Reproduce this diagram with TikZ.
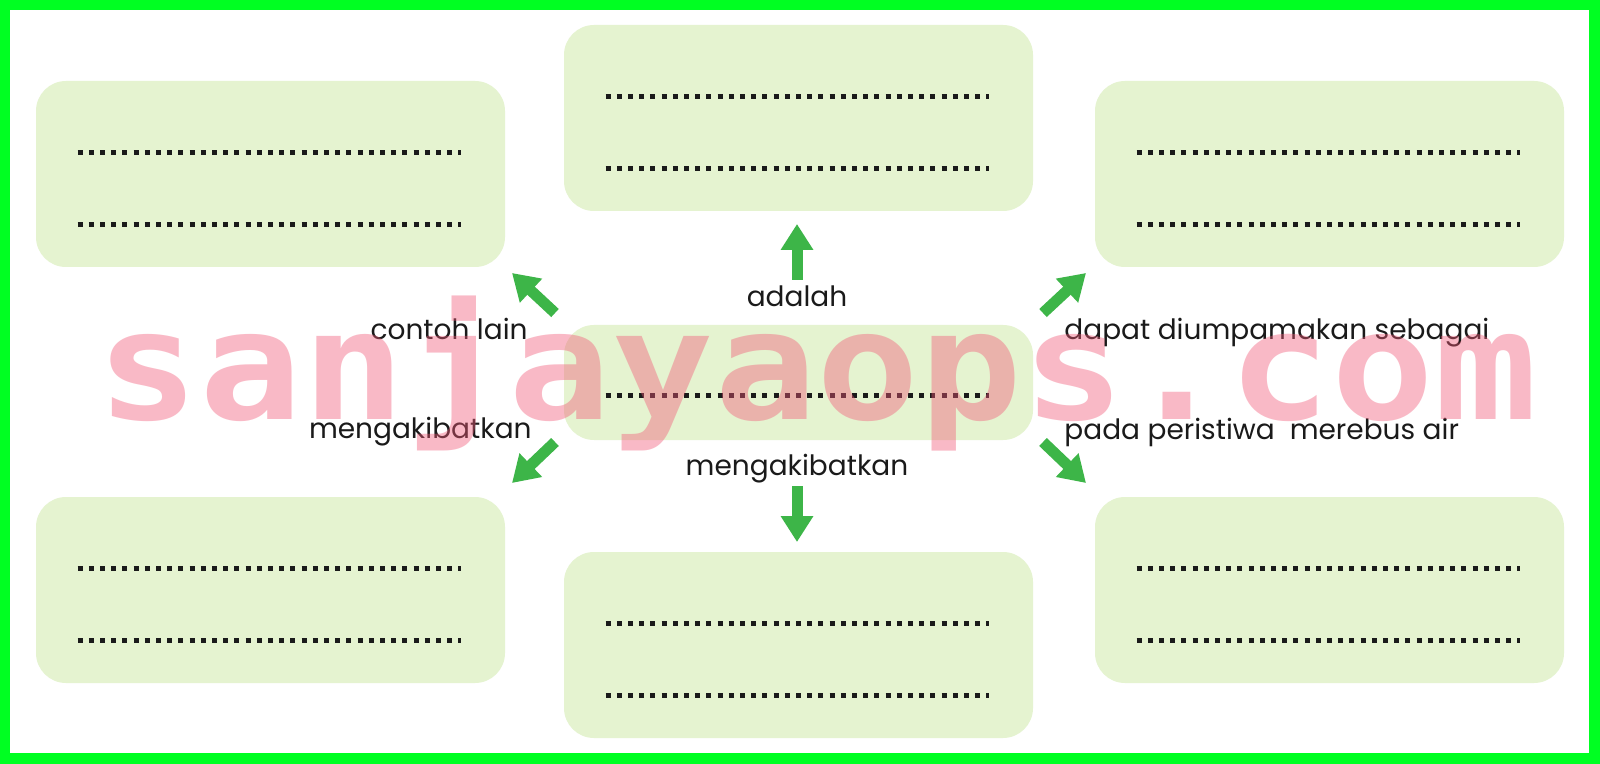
\documentclass[tikz,border=0pt]{standalone}
\usepackage{fontspec}
\setmainfont{Poppins}
\newfontfamily\wmfont{DejaVu Sans Mono}
\usetikzlibrary{arrows.meta,calc}
\definecolor{framegreen}{RGB}{0,255,34}
\definecolor{boxgreen}{RGB}{229,243,208}
\definecolor{arrowgreen}{RGB}{61,181,72}
\definecolor{inkblack}{RGB}{26,26,26}
\definecolor{wmpink}{RGB}{242,90,120}
\tikzset{
  blankbox/.style={rounded corners=15pt, fill=boxgreen, draw=none, inner sep=0pt,
    minimum width=234.5pt, minimum height=93pt},
  midbox/.style={blankbox, minimum height=57.5pt},
  dotline/.style={line width=2.5pt, inkblack, dash pattern=on 2.5pt off 3.1pt},
  arr/.style={line width=5.5pt, arrowgreen, -{Triangle[width=15.5pt,length=13pt]}},
  lbl/.style={inner sep=0pt, text=inkblack, font=\fontsize{14}{16}\selectfont},
}
\begin{document}
\begin{tikzpicture}[x=0.5pt,y=-0.5pt]
\useasboundingbox (0,0) rectangle (1600,764);
\fill[framegreen] (0,0) rectangle (1600,764);
\fill[white] (10,10) rectangle (1589,753);

% boxes
\node[blankbox] (tl) at (270.5,174) {};
\node[blankbox] (tc) at (798.5,118) {};
\node[blankbox] (tr) at (1329.5,174) {};
\node[midbox]   (mid) at (798.5,382.5) {};
\node[blankbox] (bl) at (270.5,590) {};
\node[blankbox] (bc) at (798.5,645) {};
\node[blankbox] (br) at (1329.5,590) {};

% dotted blanks
\foreach \b in {tl,tc,tr,bl,bc,br}{
  \draw[dotline] ($(\b.north west)+(42,72)$) -- ($(\b.north east)+(-44,72)$);
  \draw[dotline] ($(\b.north west)+(42,144)$) -- ($(\b.north east)+(-44,144)$);
}
\draw[dotline] ($(mid.north west)+(42,71)$) -- ($(mid.north east)+(-44,71)$);

% arrow end points
\coordinate (upA) at (797,280);  \coordinate (upB) at (797,224);
\coordinate (dnA) at (797,486);  \coordinate (dnB) at (797,542);
\coordinate (ulA) at (555,313);  \coordinate (ulB) at (512,273);
\coordinate (llA) at (555,442);  \coordinate (llB) at (512,483);
\coordinate (urA) at (1043,313); \coordinate (urB) at (1086,273);
\coordinate (lrA) at (1043,442); \coordinate (lrB) at (1086,483);
\draw[arr] (upA) -- (upB);
\draw[arr] (dnA) -- (dnB);
\draw[arr] (ulA) -- (ulB);
\draw[arr] (llA) -- (llB);
\draw[arr] (urA) -- (urB);
\draw[arr] (lrA) -- (lrB);

% labels
\node[lbl, anchor=base] (l1) at (797,307) {adalah};
\node[lbl, anchor=base east] (l2) at (528,340) {contoh lain};
\node[lbl, anchor=base east] (l3) at (532,438) {mengakibatkan};
\node[lbl, anchor=base] (l4) at (797,475) {mengakibatkan};
\node[lbl, anchor=base west] (l5) at (1064,340) {dapat diumpamakan sebagai};
\node[lbl, anchor=base west] (l6) at (1064,439) {pada peristiwa\ \ merebus air};

% watermark
\node[inner sep=0pt, anchor=base west, text=wmpink, opacity=0.42] (wm) at (96,420)
  {\scalebox{1.125}[1]{\wmfont\bfseries\fontsize{76}{80}\selectfont sanjayaops.com}};
\end{tikzpicture}
\end{document}
